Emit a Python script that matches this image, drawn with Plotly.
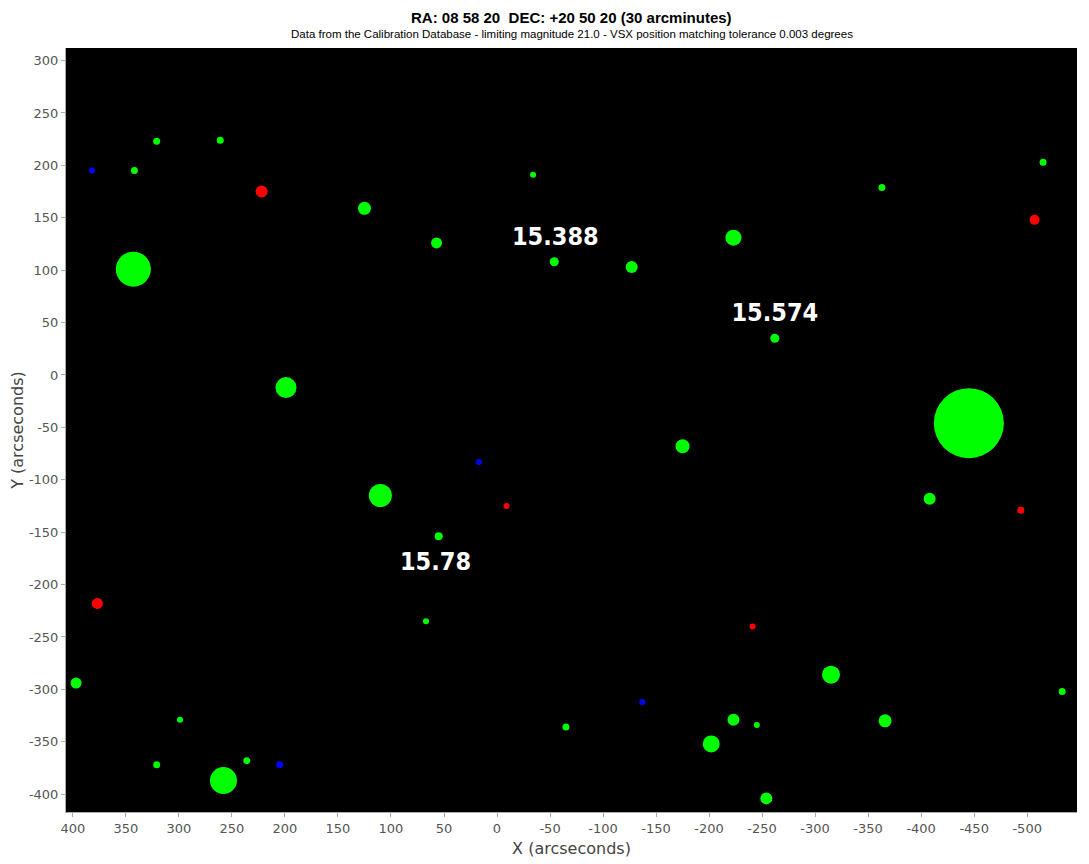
import plotly.graph_objects as go

# Star data: x, y (arcseconds), marker diameter (px), colour class
star_x = [382, 342, 321, 261, 222, 343, 125, 57, -34, -54, -127, -223, -363, -515, -507,
          -262, 199, -445, -175, 17, 110, -9, 55, -408, -494, 377, 67, -241, 397, 299,
          321, 236, 258, 205, -65, -137, -223, -245, -202, -254, -315, -366, -533]
star_y = [195, 195, 223, 224, 175, 101, 159, 126, 191, 108, 103, 131, 179, 203, 148,
          35, -12, -46, -68, -83, -115, -125, -154, -118, -129, -218, -235, -240, -294, -329,
          -372, -368, -387, -372, -336, -312, -329, -334, -352, -404, -286, -330, -302]
star_size = [6, 7, 7, 7, 12, 35, 13, 11, 6, 9, 12, 16, 7, 7, 10,
             9, 21, 70, 14, 6, 23, 6, 8, 12, 7, 11, 6, 6, 11, 6,
             7, 7, 27, 7, 7, 6, 12, 6, 17, 12, 18, 13, 7]
star_kind = ["blue", "green", "green", "green", "red", "green", "green", "green", "green", "green",
             "green", "green", "green", "green", "red", "green", "green", "green", "green", "blue",
             "green", "red", "green", "green", "red", "red", "green", "red", "green", "green",
             "green", "green", "green", "blue", "green", "blue", "green", "green", "green", "green",
             "green", "green", "green"]

label_x = [-55, -262, 58]
label_y = [130, 57, -180]
label_text = ["15.388", "15.574", "15.78"]

x_tickvals = [400, 350, 300, 250, 200, 150, 100, 50, 0, -50, -100, -150, -200, -250, -300, -350, -400, -450, -500]
x_ticktext = ["400", "350", "300", "250", "200", "150", "100", "50", "0", "-50", "-100", "-150", "-200",
              "-250", "-300", "-350", "-400", "-450", "-500"]
y_tickvals = [300, 250, 200, 150, 100, 50, 0, -50, -100, -150, -200, -250, -300, -350, -400]
y_ticktext = ["300", "250", "200", "150", "100", "50", "0", "-50", "-100", "-150", "-200", "-250",
              "-300", "-350", "-400"]

title_text = "RA: 08 58 20  DEC: +20 50 20 (30 arcminutes)"
subtitle_text = "Data from the Calibration Database - limiting magnitude 21.0 - VSX position matching tolerance 0.003 degrees"

colour_map = {"green": "#00ff00", "red": "#ff0000", "blue": "#0000ff"}

fig = go.Figure()
fig.add_trace(go.Scatter(
    x=star_x, y=star_y, mode="markers",
    marker=dict(size=star_size, color=[colour_map[k] for k in star_kind],
                line=dict(width=0), opacity=1),
    hoverinfo="x+y", showlegend=False,
))
fig.add_trace(go.Scatter(
    x=label_x, y=label_y, mode="text", text=label_text,
    textfont=dict(family="DejaVu Sans Condensed, Roboto Condensed, Roboto", size=25,
                  color="white", weight="bold"),
    hoverinfo="skip", showlegend=False,
))

tickfont = dict(family="DejaVu Sans", size=13, color="#555555")
fig.update_layout(
    width=1081, height=856,
    margin=dict(l=58, r=12, t=40, b=52),
    paper_bgcolor="white", plot_bgcolor="black",
    xaxis=dict(
        range=[406.5, -547], showgrid=False, zeroline=False, automargin=False,
        tickmode="array", tickvals=x_tickvals, ticktext=x_ticktext,
        ticks="outside", ticklen=4, tickcolor="#aaaaaa",
        showline=True, linecolor="#aaaaaa", linewidth=1,
        tickfont=tickfont,
        title=dict(text="X (arcseconds)", font=dict(family="DejaVu Sans", size=16, color="#444444"), standoff=8),
    ),
    yaxis=dict(
        range=[-417, 312], showgrid=False, zeroline=False, automargin=False,
        tickmode="array", tickvals=y_tickvals, ticktext=y_ticktext,
        ticks="outside", ticklen=4, tickcolor="#aaaaaa",
        showline=True, linecolor="#aaaaaa", linewidth=1,
        tickfont=tickfont,
        title=dict(text="Y (arcseconds)", font=dict(family="DejaVu Sans", size=16, color="#444444"), standoff=4),
    ),
    annotations=[
        dict(text="<b>" + title_text + "</b>", xref="paper", yref="paper", x=0.5, y=1,
             xanchor="center", yanchor="middle", yshift=31, showarrow=False,
             font=dict(family="Liberation Sans", size=15, color="black")),
        dict(text=subtitle_text, xref="paper", yref="paper", x=0.5, y=1,
             xanchor="center", yanchor="middle", yshift=14, showarrow=False,
             font=dict(family="Liberation Sans", size=11.5, color="black")),
    ],
)

fig.write_html("out.html")
